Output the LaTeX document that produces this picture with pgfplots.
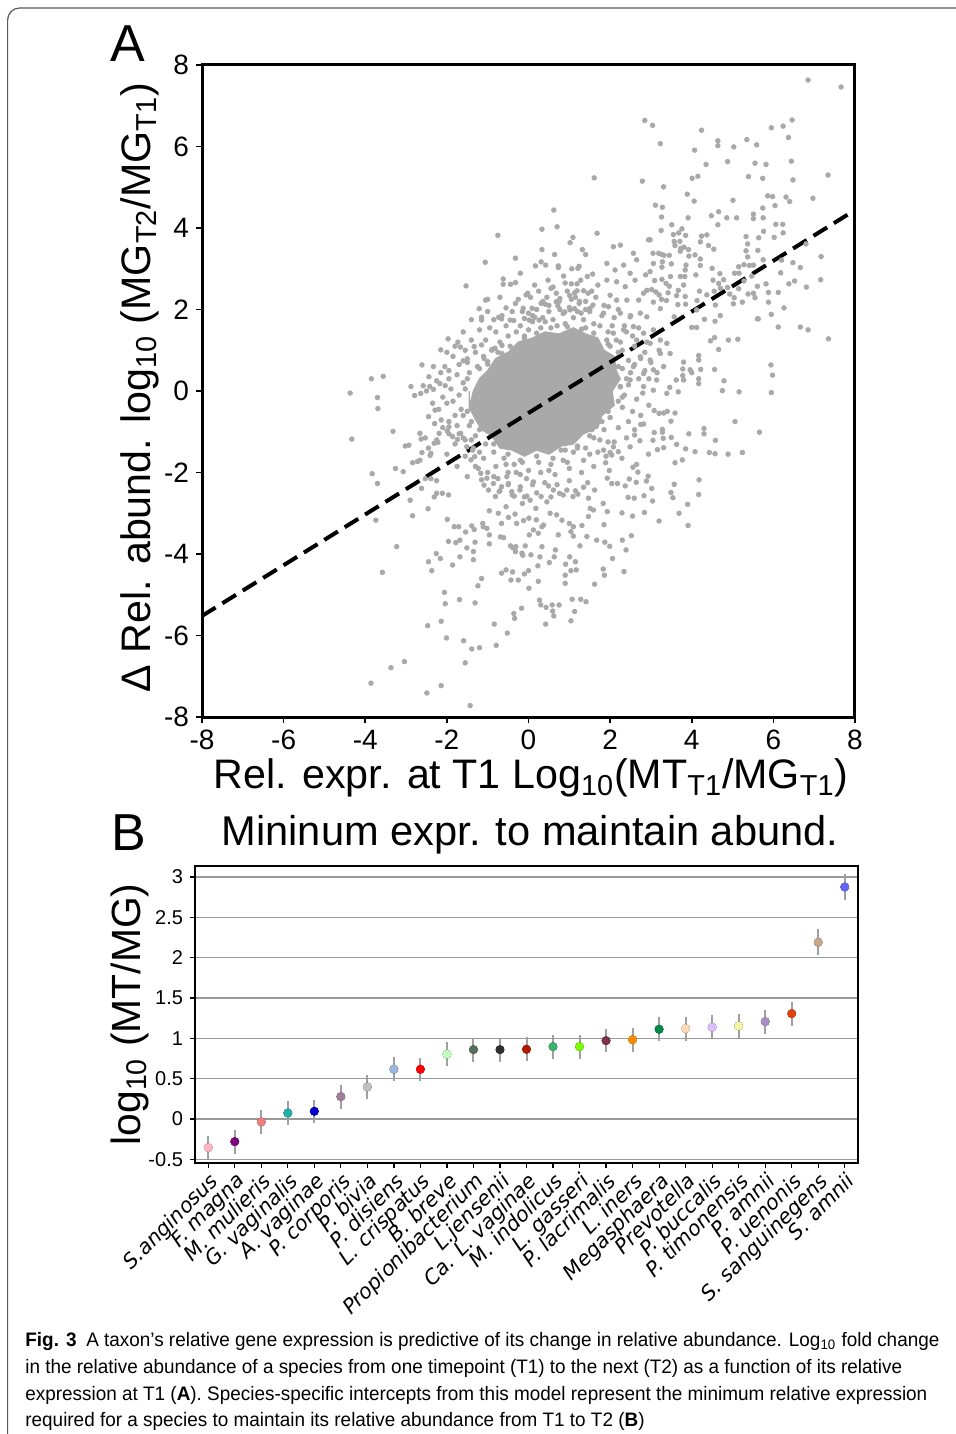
\documentclass[border=0pt]{standalone}
\usepackage{pgfplots}
\pgfplotsset{compat=1.18}
\usepackage{fontspec}
\setmainfont{Liberation Sans}
\newfontfamily\djv{DejaVu Sans}
\newfontfamily\capfont[FakeStretch=0.97]{Liberation Sans}
\definecolor{ptgray}{HTML}{A9A9A9}
\definecolor{errgray}{HTML}{A0A0A0}
\definecolor{c0}{HTML}{FFB6C1}
\definecolor{c1}{HTML}{800080}
\definecolor{c2}{HTML}{F08080}
\definecolor{c3}{HTML}{20B2AA}
\definecolor{c4}{HTML}{0000CD}
\definecolor{c5}{HTML}{A27E9E}
\definecolor{c6}{HTML}{C0C0C0}
\definecolor{c7}{HTML}{9AB8E0}
\definecolor{c8}{HTML}{FF0000}
\definecolor{c9}{HTML}{C1FFC1}
\definecolor{c10}{HTML}{56705C}
\definecolor{c11}{HTML}{303030}
\definecolor{c12}{HTML}{B21A00}
\definecolor{c13}{HTML}{3CB371}
\definecolor{c14}{HTML}{7CFC00}
\definecolor{c15}{HTML}{7D3148}
\definecolor{c16}{HTML}{FF8C00}
\definecolor{c17}{HTML}{008B45}
\definecolor{c18}{HTML}{FFDAB9}
\definecolor{c19}{HTML}{DDC0FF}
\definecolor{c20}{HTML}{F5F5A0}
\definecolor{c21}{HTML}{A98CC8}
\definecolor{c22}{HTML}{E0440E}
\definecolor{c23}{HTML}{C8A888}
\definecolor{c24}{HTML}{6464FF}
\pgfplotstableread{
x y e
0 -0.355 0.15
1 -0.281 0.15
2 -0.037 0.15
3 0.074 0.15
4 0.095 0.14
5 0.277 0.15
6 0.397 0.15
7 0.616 0.15
8 0.616 0.145
9 0.802 0.15
10 0.860 0.15
11 0.860 0.15
12 0.864 0.15
13 0.897 0.15
14 0.897 0.15
15 0.971 0.145
16 0.983 0.15
17 1.112 0.15
18 1.120 0.15
19 1.136 0.15
20 1.153 0.145
21 1.207 0.15
22 1.306 0.15
23 2.190 0.16
24 2.876 0.165
}\datB
\begin{document}
\begin{tikzpicture}
\useasboundingbox (0,0) rectangle (478pt,-717pt);
\draw[black!65, line width=0.6pt, rounded corners=6pt] (3.8pt,-717pt) -- (3.8pt,-4pt) -- (478pt,-4pt);
\node[font=\fontsize{26}{26}\selectfont] at (64pt,-22pt) {A};
\node[font=\fontsize{26}{26}\selectfont] at (64.5pt,-416.5pt) {B};
\node[font=\fontsize{20.8}{20.8}\selectfont] at (265pt,-417.5pt) {Mininum expr. to maintain abund.};

\begin{axis}[
  scale only axis, width=326.5pt, height=326pt,
  at={(101pt,-358.5pt)}, anchor=south west,
  xmin=-8, xmax=8, ymin=-8, ymax=8,
  xtick={-8,-6,-4,-2,0,2,4,6,8}, ytick={-8,-6,-4,-2,0,2,4,6,8},
  xticklabels={-8,-6,-4,-2,0,2,4,6,8}, yticklabels={-8,-6,-4,-2,0,2,4,6,8},
  tick align=outside, xtick pos=bottom, ytick pos=left,
  major tick length=3pt, tick style={black, line width=0.8pt},
  axis line style={line width=1.5pt},
  ticklabel style={font=\fontsize{14}{14}\selectfont},
  label style={font=\fontsize{20.6}{20.6}\selectfont},
  xlabel={Rel. expr. at T1 Log\textsubscript{10}(MT\textsubscript{T1}/MG\textsubscript{T1})},
  ylabel={Δ Rel. abund. log\textsubscript{10} (MG\textsubscript{T2}/MG\textsubscript{T1})},
  xlabel style={at={(axis description cs:0.504,-0.094)}, anchor=center},
  ylabel style={at={(axis description cs:-0.095,0.505)}, anchor=center},
]
% dense core of the point cloud
\addplot[fill=ptgray, draw=ptgray, line width=0.6pt] coordinates {
(-1.45,-0.4) (-1.35,0.0) (-1.2,0.3) (-1.0,0.5) (-0.8,0.8) (-0.5,0.95) (-0.25,1.2) (0.1,1.3) (0.4,1.45) (0.75,1.4) (1.1,1.55) (1.4,1.4) (1.7,1.3) (1.85,1.0) (2.1,0.85) (2.15,0.5) (2.25,0.3) (2.05,0.0) (2.1,-0.35) (1.8,-0.6) (1.7,-0.9) (1.35,-1.05) (1.1,-1.3) (0.8,-1.35) (0.5,-1.55) (0.2,-1.45) (-0.1,-1.6) (-0.4,-1.45) (-0.7,-1.4) (-0.9,-1.1) (-1.15,-0.95) (-1.3,-0.7) (-1.45,-0.4)} \closedcycle;
\addplot[only marks, mark=*, mark size=1.15pt, color=ptgray, mark options={draw=ptgray, fill=ptgray}] coordinates {
(6.85,7.63) (7.66,7.46)
(2.85,6.64) (3.04,6.52) (4.24,6.40) (3.23,6.07) (4.07,5.91) (4.64,6.14) (4.64,6.02) (5.03,5.99) (5.35,6.17) (5.59,6.04) (5.95,6.46) (6.24,6.50) (6.46,6.65) (6.37,6.22) (6.44,5.64) (6.48,5.18) (7.34,5.30) (6.97,4.73) (6.31,4.76) (6.40,4.65) (5.98,4.77) (5.86,4.79) (6.04,4.55) (5.55,5.59) (5.82,5.56) (5.39,5.26) (5.74,5.22) (4.88,5.63) (4.35,5.56) (4.15,5.27) (4.01,5.22) (3.89,4.83) (4.06,4.66) (2.79,5.15) (3.31,5.01) (3.11,4.56) (3.28,4.51) (3.26,4.27) (3.91,4.25) (4.48,4.30) (4.66,4.40) (4.64,4.08) (4.86,4.25) (5.10,4.25) (5.01,4.68) (5.51,4.34) (5.51,4.23) (5.74,4.49) (5.75,4.25) (6.06,4.09) (5.76,3.92) (6.02,3.77) (6.24,3.88) (6.23,4.09) (6.80,3.61) (7.17,3.30) (7.16,2.73) (6.48,3.15) (6.66,3.03) (6.52,2.70) (6.38,2.63) (6.81,2.55) (7.35,1.28) (6.66,1.57) (6.85,1.50) (6.12,1.57) (6.26,2.04) (5.95,1.88) (5.88,2.18) (5.88,2.42) (6.12,2.42) (5.82,2.63) (5.61,2.57) (5.55,2.29) (5.61,1.77) (5.13,1.27) (4.90,1.25) (4.66,1.02) (4.56,1.31) (4.46,1.23) (4.17,0.87) (4.79,0.25) (5.16,-0.02) (4.75,0.01) (4.56,0.53) (4.22,0.53) (4.17,0.30) (4.17,0.18) (4.00,0.45) (3.80,0.71) (3.78,0.54) (3.78,0.38) (3.62,0.27) (3.67,-0.02) (3.46,0.09) (5.94,0.64) (5.98,0.39) (5.95,-0.04) (5.28,2.70) (5.38,2.38) (5.24,2.18) (5.04,2.29) (5.02,2.14) (5.28,3.10) (5.15,3.05) (5.16,2.89) (5.37,3.29) (5.33,3.44) (5.37,3.61) (5.33,3.79) (5.64,3.76) (5.75,3.22) (6.20,3.21) (5.47,2.82) (4.88,2.54) (4.70,2.52) (4.78,2.73) (4.69,2.88) (4.50,3.01) (4.58,2.11) (4.70,1.85) (4.31,1.76) (4.00,1.56) (4.13,2.22) (4.37,2.36) (4.10,2.85) (4.21,3.08) (4.08,3.34) (3.86,3.09) (3.93,3.31) (3.71,3.67) (3.51,4.08) (3.76,3.98) (4.24,3.80)
(5.63,1.77) (5.51,2.40) (4.93,2.38) (5.15,2.51) (5.05,2.89) (5.41,3.08) (5.62,3.45) (5.51,3.09) (6.18,2.90) (4.66,2.64) (4.52,2.72) (4.55,2.45) (4.57,1.71) (4.12,1.56) (4.12,1.99) (4.19,2.45) (4.21,3.24) (3.92,3.47) (3.73,3.50) (3.72,3.43) (3.85,3.82) (3.59,3.57) (3.57,3.67) (3.55,3.84) (3.68,3.88) (3.81,3.53) (4.21,3.66) (4.37,3.83) (4.54,3.48) (4.41,3.57) (3.84,2.97) (3.72,2.81) (3.83,2.81) (3.80,2.60) (3.67,2.47) (3.63,2.34) (3.84,2.32) (3.85,2.13) (3.66,2.12) (3.57,1.82) (3.38,2.22) (3.42,2.41) (3.37,2.64) (3.45,2.57) (3.27,2.74) (3.27,3.04) (3.28,3.17) (3.32,3.33) (3.50,3.12) (3.48,2.81) (3.23,2.02) (3.26,2.25) (3.20,2.36) (3.06,2.18) (3.12,2.43) (3.02,2.49) (3.09,2.71) (2.90,2.47) (2.87,2.85) (2.98,2.93) (3.06,3.13) (3.05,3.38) (2.98,3.71) (2.94,3.71) (3.25,3.94) (3.19,3.38) (3.27,3.35) (3.45,3.33)
(2.08,3.54) (2.25,3.58) (1.92,3.13) (2.12,2.97) (2.33,3.09) (2.57,3.38) (2.65,3.22) (2.49,2.89) (2.16,2.68) (1.92,2.72) (2.37,2.56) (2.61,2.72) (2.82,2.40) (2.70,2.23) (2.41,2.23) (2.16,2.23) (1.96,2.07) (1.84,1.91) (2.25,1.91) (2.49,1.82) (2.74,1.91) (2.90,1.82) (2.57,1.58) (2.33,1.50) (2.08,1.42) (1.92,1.25) (2.82,1.42) (3.06,1.50) (2.65,1.25) (2.98,1.17) (3.23,1.25) (3.39,1.17) (3.47,0.92) (3.23,0.92) (2.98,0.76) (2.74,0.84) (3.06,0.52) (3.31,0.60) (2.82,0.43) (3.14,0.27) (2.57,0.60) (2.49,0.27) (2.82,0.11) (3.06,0.02) (3.39,-0.06) (2.25,0.11) (2.00,0.02) (3.80,0.27) (3.96,0.52) (4.17,0.76)
(1.61,5.23) (0.62,4.44) (0.33,3.97) (0.70,4.03) (-0.75,3.82) (1.02,3.64) (1.09,3.77) (1.68,3.87) (1.32,3.47) (1.40,3.35) (0.33,3.47) (0.64,3.35) (-0.32,3.26) (-1.06,3.16) (0.17,3.07) (0.73,3.07) (1.06,3.00) (-0.20,2.89) (-0.62,2.75) (0.48,2.72) (0.86,2.82) (1.05,2.63) (0.55,2.52) (-1.53,2.58) (-0.02,2.40) (1.01,2.34) (-1.05,2.23) (-1.21,2.02) (-1.15,1.81) (-1.15,1.74) (-0.55,2.04) (-0.32,2.15) (-0.13,2.03) (-0.73,1.81) (-1.97,1.28) (-2.15,1.01) (-1.73,1.20) (-1.33,1.09) (-1.15,1.13) (-2.33,0.60) (-2.61,0.64) (-1.95,0.50) (-1.60,0.74) (-2.44,0.35) (-2.88,0.11) (-3.85,0.30) (-3.56,0.36) (-4.37,-0.05) (-3.70,-0.16)
(0.31,3.17) (0.42,3.09) (0.73,3.03) (1.21,3.01) (1.24,3.06) (-0.62,2.62) (-0.44,2.62) (-0.32,2.66) (1.19,2.63) (1.28,2.72) (1.44,2.81) (1.57,2.87) (-0.06,2.36) (0.77,2.27) (0.68,2.40) (1.13,2.41) (1.19,2.46) (1.35,2.46) (1.46,2.40) (-1.00,2.25) (0.00,1.91) (0.09,2.03) (0.15,1.81) (0.31,2.15) (0.41,2.13) (0.68,2.19) (0.72,2.09) (0.77,2.00) (0.89,1.94) (1.02,1.99) (1.13,2.02) (1.24,2.15) (1.29,1.91) (1.40,2.00) (1.51,2.03) (1.58,2.11) (-0.66,1.77) (-0.45,1.74) (-0.36,1.73) (-0.10,1.78) (0.02,1.74) (0.26,1.74) (0.41,1.70) (-1.67,1.08) (-1.50,0.79) (-1.09,0.80) (-1.00,0.66) (-0.89,1.02) (-0.82,1.05) (-0.65,1.12) (-0.65,0.92) (-0.58,0.84) (-2.58,0.13) (-2.42,0.11) (-2.33,0.04) (-2.17,0.18) (-2.04,0.13) (-2.79,-0.11) (-2.64,-0.06)
(-4.33,-1.18) (-3.69,-0.43) (-3.32,-0.99) (-3.83,-2.03) (-3.70,-2.27) (-3.74,-3.17) (-3.23,-3.82) (-3.58,-4.45) (-3.86,-7.17) (-3.37,-6.79) (-3.04,-6.64) (-2.49,-7.41) (-2.14,-7.23) (-1.43,-7.72) (-1.55,-6.67) (-2.47,-5.76) (-2.01,-6.06) (-2.14,-5.65) (-1.59,-6.13) (-1.39,-6.33) (-1.20,-6.30) (-0.79,-6.24) (-0.52,-5.94) (-0.84,-5.72) (-2.04,-5.22) (-2.06,-4.94) (-1.69,-5.12) (-1.31,-5.20) (-1.24,-4.78) (-1.15,-4.60) (-2.45,-4.19) (-2.37,-4.41) (-2.26,-3.99) (-1.86,-4.27) (-1.68,-4.07) (-2.84,-3.06) (-2.90,-2.68) (-2.46,-2.89)
(-1.99,-3.15) (-1.82,-3.33) (-1.71,-3.33) (-1.54,-3.46) (-1.39,-3.31) (-1.33,-3.40) (-1.96,-3.69) (-1.78,-3.72) (-1.68,-3.66) (-1.51,-3.85) (-1.35,-4.14) (-1.35,-3.94) (-1.31,-3.71) (-2.16,-4.11) (-2.31,-2.60) (-2.25,-2.51) (-2.11,-2.51) (-1.96,-2.55) (-2.66,-1.04) (-2.63,-1.18) (-2.53,-1.15) (-2.41,-1.58) (-2.31,-1.28) (-2.22,-1.26) (-2.19,-1.04) (-1.99,-0.98) (-1.95,-0.88) (-2.84,-1.76) (-2.72,-1.73) (-2.66,-1.70) (-2.61,-1.51) (-2.39,-1.53) (-3.26,-1.90) (-3.02,-1.35) (-2.93,-1.33) (-3.07,-1.98) (-2.62,-2.39) (-2.53,-2.15) (-2.39,-2.15) (-2.25,-2.20) (-1.11,-3.33) (-1.12,-3.25) (-1.02,-3.37) (-0.96,-3.53) (-0.96,-3.75) (-0.69,-3.58) (-0.61,-3.60) (-0.66,-3.25) (-0.55,-2.84) (-0.44,-3.80) (-0.39,-3.84) (-0.31,-3.82) (-0.16,-3.98) (-0.14,-4.03) (-0.32,-3.94) (-0.66,-4.47) (-0.55,-4.39) (-0.39,-4.44) (-0.43,-4.64) (-0.25,-4.64) (-0.10,-4.49) (0.00,-4.41) (0.01,-4.84) (-0.17,-5.33) (-0.36,-5.46) (-0.34,-5.58) (0.24,-4.67) (0.27,-5.13) (0.30,-5.25) (0.43,-5.31) (0.58,-5.25) (0.59,-5.40) (0.75,-5.25) (0.62,-5.52) (0.42,-5.72) (0.90,-4.72) (0.90,-4.52) (0.91,-4.25) (1.01,-4.07) (1.04,-4.41) (1.15,-4.19) (1.17,-4.39) (1.07,-5.11) (1.13,-5.41) (1.04,-5.64) (1.28,-5.11) (1.41,-5.17) (1.26,-3.80) (1.43,-3.57) (1.67,-3.66) (1.62,-4.74) (0.28,-4.07) (0.33,-3.82) (0.23,-4.29) (0.06,-4.02) (-0.08,-3.80) (0.51,-4.21) (0.63,-4.07) (0.66,-3.90) (0.73,-3.53) (1.04,-3.45) (1.10,-3.56) (1.10,-3.33) (0.02,-3.53) (0.12,-3.41) (0.24,-3.49) (0.33,-3.33) (-0.96,-2.94) (-0.74,-3.00) (-0.49,-3.10) (-0.33,-3.02) (-0.29,-3.25) (-0.12,-3.18) (0.01,-3.12) (0.19,-3.16) (0.37,-3.29) (0.53,-3.00) (0.69,-3.04) (0.82,-3.17) (1.00,-3.25) (1.31,-3.30) (1.47,-3.08) (1.59,-2.92)
(-2.45,-0.63) (-2.29,-0.47) (-2.14,-0.71) (-1.86,-1.12) (-1.74,-1.19) (-1.66,-1.04) (-1.55,-1.20) (-1.51,-1.37) (-1.37,-1.45) (-1.32,-1.61) (-1.41,-1.69) (-1.23,-1.90) (-1.17,-2.02) (-1.15,-2.18) (-1.09,-2.31) (-1.02,-2.14) (-0.98,-2.43) (-0.86,-2.27) (-0.81,-2.59) (-0.72,-2.47) (-0.66,-2.35) (-0.53,-2.10) (-0.49,-2.27) (-0.41,-2.47) (-0.35,-2.58) (-0.21,-2.43) (-0.15,-2.76) (-0.04,-2.58) (0.04,-2.68) (0.12,-2.23) (0.18,-2.88) (0.31,-2.59) (0.45,-2.72) (0.49,-2.33) (0.61,-2.43) (0.76,-2.51) (0.94,-2.43) (1.09,-2.59) (1.21,-2.53) (1.35,-2.36) (1.47,-2.63) (1.51,-2.88) (1.62,-2.43)
(5.06,-0.75) (5.66,-1.01) (4.30,-0.92) (4.30,-1.05) (4.58,-1.21) (3.93,-1.05) (4.08,-1.49) (4.43,-1.51) (4.57,-1.54) (4.89,-1.55) (5.24,-1.51) (3.85,-1.42) (3.63,-1.31) (3.77,-1.69) (3.59,-1.76) (3.49,-0.74) (3.59,-0.54) (3.20,-0.55) (3.40,-0.50) (3.31,-0.54) (3.08,-0.48) (4.18,-2.18) (4.17,-2.54) (3.90,-2.78) (3.91,-3.30) (3.69,-3.00) (3.57,-2.29) (3.20,-3.19) (2.52,-3.55) (2.30,-3.66) (2.39,-3.90) (2.06,-4.11) (2.34,-4.43) (1.86,-4.52) (1.83,-4.37)
(3.28,-0.94) (3.28,-1.01) (3.08,-1.02) (3.50,-1.14) (3.30,-1.16) (3.05,-1.21) (3.31,-1.39) (3.16,-1.44) (2.94,-1.55) (3.49,-2.49) (3.54,-2.62) (3.02,-2.39) (3.04,-2.70) (2.83,-2.57) (2.84,-2.98) (2.59,-2.63) (2.44,-2.61) (2.55,-3.07) (2.29,-2.99) (1.93,-2.96) (2.93,-2.09) (2.89,-2.21) (2.64,-2.24) (2.47,-2.16) (2.37,-2.33) (2.18,-2.27) (2.04,-2.27) (1.93,-2.14) (2.68,-1.99) (2.56,-1.87) (2.65,-1.80) (1.98,-1.95) (1.89,-1.76) (1.84,-1.45) (1.87,-3.71) (1.99,-3.81) (1.85,-3.28) (1.83,-2.76) (2.75,-0.82) (2.82,-0.81) (2.73,-1.22) (2.60,-1.08) (2.49,-1.37) (2.29,-1.65) (2.08,-1.37) (2.00,-1.51) (2.04,-1.57) (2.20,-1.49)
(-1.7,-0.1) (-1.6,0.2) (-1.45,0.45) (-1.25,0.6) (-1.1,0.85) (-0.9,1.0) (-0.7,1.2) (-0.5,1.35) (-0.3,1.45) (-1.9,0.05) (-1.75,0.4) (-1.5,0.7) (-1.3,0.95) (-1.05,1.25) (-0.8,1.45) (-0.55,1.6) (-1.65,-0.45) (-1.8,-0.6) (-2.0,-0.3) (-1.95,0.3) (-1.55,1.0) (-0.95,1.55) (-0.2,1.6) (-0.1,1.35) (0.0,1.5)
(0.1,1.7) (0.35,1.8) (0.6,1.75) (0.85,1.9) (1.1,1.8) (1.35,1.75) (1.6,1.65) (0.2,2.0) (0.5,2.1) (0.75,2.2) (1.0,2.05) (1.25,2.2) (1.5,1.95) (1.8,1.85) (0.3,1.55) (0.9,1.65) (1.4,1.55)
(1.95,1.45) (2.15,1.25) (2.3,1.0) (2.45,0.75) (2.5,0.45) (2.45,0.15) (2.35,-0.1) (2.3,-0.4) (2.6,1.1) (2.75,0.8) (2.7,0.3) (2.65,-0.2) (2.85,0.5) (2.05,1.6) (2.4,1.45) (2.2,0.6) (2.0,1.1) (2.55,-0.5)
(2.0,-0.65) (1.85,-0.95) (1.6,-1.15) (1.4,-1.4) (1.1,-1.5) (0.85,-1.7) (0.55,-1.8) (0.25,-1.75) (2.2,-0.9) (1.95,-1.25) (1.7,-1.5) (1.35,-1.7) (1.0,-1.9) (0.65,-2.05) (0.3,-2.0) (0.0,-1.95) (1.55,-0.95) (1.2,-1.35) (0.8,-1.45)
(-0.35,-1.8) (-0.6,-1.65) (-0.85,-1.5) (-1.05,-1.3) (-1.3,-1.1) (-1.45,-0.85) (-1.6,-0.6) (-0.5,-2.0) (-0.8,-1.85) (-1.1,-1.65) (-1.35,-1.4) (-1.6,-1.15) (-1.75,-0.85) (-0.2,-2.05) (-0.15,-1.75)
(-2.1,-0.15) (-2.25,0.25) (-2.05,0.6) (-1.85,0.85) (-1.4,1.25) (-1.2,1.5) (-0.65,1.85) (-0.4,1.95) (-0.85,1.75) (-1.85,-0.25) (-2.2,-0.45) (-1.95,-0.75) (-1.7,0.65) (-2.35,-0.3) (-2.5,0.0) (-2.15,0.45) (-1.6,1.45) (-1.0,1.95) (-0.25,2.25) (-0.7,2.3) (-1.4,1.75) (-2.0,0.95) (-1.8,1.1) (-1.55,0.05) (-1.5,0.3) (-1.2,0.55) (-1.0,0.72) (-0.75,0.95) (-0.45,1.1) (-1.5,-0.5) (-1.4,-0.75) (-1.2,-0.95)
(0.05,2.3) (0.25,2.45) (0.45,2.3) (0.6,2.55) (0.95,2.45) (1.15,2.3) (1.4,2.2) (1.65,2.3) (1.85,2.1) (0.15,2.6) (0.9,2.65) (1.7,2.6) (-0.15,1.95) (0.5,1.95) (1.2,1.95) (1.75,1.6) (0.7,1.6) (0.1,1.85) (1.05,2.25) (0.35,2.2) (1.55,2.45) (2.0,2.35) (2.2,2.0) (2.1,1.8) (0.2,1.42) (0.55,1.55) (0.95,1.58) (1.3,1.52) (1.6,1.42) (-0.1,1.3)
(2.35,1.6) (2.55,1.35) (2.7,1.55) (2.9,1.2) (2.85,0.95) (3.0,0.7) (2.95,0.3) (3.15,0.45) (2.8,-0.05) (2.95,-0.35) (2.75,-0.6) (2.45,-0.75) (2.6,-0.95) (2.3,-0.15) (2.4,0.3) (2.6,0.65) (3.2,1.0) (2.5,1.85) (2.25,1.2) (2.4,-1.15) (1.95,1.15) (2.2,0.95) (2.3,0.55) (2.25,0.1) (2.2,-0.25) (1.95,-0.5)
(1.9,-1.6) (1.6,-1.85) (1.3,-2.0) (1.0,-2.2) (0.7,-2.3) (0.4,-2.25) (0.1,-2.3) (-0.2,-2.35) (-0.5,-2.3) (-0.75,-2.15) (-1.0,-2.0) (1.45,-2.25) (1.15,-2.45) (0.85,-2.55) (0.55,-2.6) (0.2,-2.5) (-0.1,-2.6) (-0.4,-2.55) (-0.7,-2.45) (2.1,-1.25) (1.75,-1.2) (1.5,-1.55) (0.95,-1.75) (0.5,-1.95) (-0.05,-2.15) (-0.3,-2.0) (-0.55,-1.8) (-0.85,-2.1) (1.8,-0.75) (1.5,-1.1) (1.2,-1.4) (0.9,-1.45) (0.6,-1.65) (0.2,-1.6) (-0.2,-1.7) (-0.5,-1.55) (-0.85,-1.3)
(-1.3,-1.85) (-1.55,-1.6) (-1.8,-1.3) (-1.95,-1.05) (-2.1,-0.9) (-1.5,-2.1) (-1.75,-1.85) (-2.0,-1.55) (-2.25,-1.2) (-1.2,-1.5) (-1.4,-1.2) (-1.7,-1.05) (-2.3,-0.8) (-2.45,-1.4)
};
\addplot[black, line width=2pt, dash pattern=on 8pt off 4pt] coordinates {(-8,-5.52) (8,4.44)};
\end{axis}

\begin{axis}[
  scale only axis, width=331.5pt, height=148.5pt,
  at={(97.5pt,-581.5pt)}, anchor=south west,
  xmin=-0.5, xmax=24.5, ymin=-0.546, ymax=3.136,
  xtick={0,1,2,3,4,5,6,7,8,9,10,11,12,13,14,15,16,17,18,19,20,21,22,23,24},
  xticklabels={S.anginosus,F. magna,M. mulieris,G. vaginalis,A. vaginae,P. corporis,P. bivia,P. disiens,L. crispatus,B. breve,Propionibacterium,L.jensenii,Ca. L. vaginae,M. indolicus,L. gasseri,P. lacrimalis,L. iners,Megasphaera,Prevotella,P. buccalis,P. timonensis,P. amnii,P. uenonis,S. sanguinegens,S. amnii},
  ytick={-0.5,0,0.5,1,1.5,2,2.5,3},
  yticklabels={-0.5,0,0.5,1,1.5,2,2.5,3},
  ymajorgrids, grid style={black!40, line width=0.75pt},
  tick align=outside, xtick pos=bottom, ytick pos=left,
  major tick length=2.5pt, tick style={black, line width=0.6pt},
  axis line style={line width=1.2pt},
  xticklabel style={font=\djv\itshape\fontsize{10.3}{10.3}\selectfont, rotate=45, anchor=north east, inner sep=1pt},
  yticklabel style={font=\fontsize{10}{10}\selectfont},
  ylabel={log\textsubscript{10} (MT/MG)},
  ylabel style={at={(axis description cs:-0.098,0.5)}, anchor=center, font=\fontsize{20.4}{20.4}\selectfont},
]
\addplot[only marks, mark=none, forget plot, error bars/.cd, y dir=both, y explicit, error mark=none, error bar style={line width=1pt, color=errgray, solid}] table[x=x, y=y, y error=e] {\datB};
\addplot[only marks, mark=*, mark size=2pt, color=c0] coordinates {(0,-0.355)};
\addplot[only marks, mark=*, mark size=2pt, color=c1] coordinates {(1,-0.281)};
\addplot[only marks, mark=*, mark size=2pt, color=c2] coordinates {(2,-0.037)};
\addplot[only marks, mark=*, mark size=2pt, color=c3] coordinates {(3,0.074)};
\addplot[only marks, mark=*, mark size=2pt, color=c4] coordinates {(4,0.095)};
\addplot[only marks, mark=*, mark size=2pt, color=c5] coordinates {(5,0.277)};
\addplot[only marks, mark=*, mark size=2pt, color=c6] coordinates {(6,0.397)};
\addplot[only marks, mark=*, mark size=2pt, color=c7] coordinates {(7,0.616)};
\addplot[only marks, mark=*, mark size=2pt, color=c8] coordinates {(8,0.616)};
\addplot[only marks, mark=*, mark size=2pt, color=c9] coordinates {(9,0.802)};
\addplot[only marks, mark=*, mark size=2pt, color=c10] coordinates {(10,0.860)};
\addplot[only marks, mark=*, mark size=2pt, color=c11] coordinates {(11,0.860)};
\addplot[only marks, mark=*, mark size=2pt, color=c12] coordinates {(12,0.864)};
\addplot[only marks, mark=*, mark size=2pt, color=c13] coordinates {(13,0.897)};
\addplot[only marks, mark=*, mark size=2pt, color=c14] coordinates {(14,0.897)};
\addplot[only marks, mark=*, mark size=2pt, color=c15] coordinates {(15,0.971)};
\addplot[only marks, mark=*, mark size=2pt, color=c16] coordinates {(16,0.983)};
\addplot[only marks, mark=*, mark size=2pt, color=c17] coordinates {(17,1.112)};
\addplot[only marks, mark=*, mark size=2pt, color=c18] coordinates {(18,1.120)};
\addplot[only marks, mark=*, mark size=2pt, color=c19] coordinates {(19,1.136)};
\addplot[only marks, mark=*, mark size=2pt, color=c20] coordinates {(20,1.153)};
\addplot[only marks, mark=*, mark size=2pt, color=c21] coordinates {(21,1.207)};
\addplot[only marks, mark=*, mark size=2pt, color=c22] coordinates {(22,1.306)};
\addplot[only marks, mark=*, mark size=2pt, color=c23] coordinates {(23,2.190)};
\addplot[only marks, mark=*, mark size=2pt, color=c24] coordinates {(24,2.876)};
\end{axis}

\node[anchor=base west, inner sep=0pt, font=\capfont\fontsize{9.75}{9.75}\selectfont] at (12.5pt,-673pt) {\textbf{Fig. 3}\enspace A taxon’s relative gene expression is predictive of its change in relative abundance. Log\textsubscript{10} fold change};
\node[anchor=base west, inner sep=0pt, font=\capfont\fontsize{9.75}{9.75}\selectfont] at (12.5pt,-686.5pt) {in the relative abundance of a species from one timepoint (T1) to the next (T2) as a function of its relative};
\node[anchor=base west, inner sep=0pt, font=\capfont\fontsize{9.75}{9.75}\selectfont] at (12.5pt,-700pt) {expression at T1 (\textbf{A}). Species-specific intercepts from this model represent the minimum relative expression};
\node[anchor=base west, inner sep=0pt, font=\capfont\fontsize{9.75}{9.75}\selectfont] at (12.5pt,-713pt) {required for a species to maintain its relative abundance from T1 to T2 (\textbf{B})};
\end{tikzpicture}
\end{document}
